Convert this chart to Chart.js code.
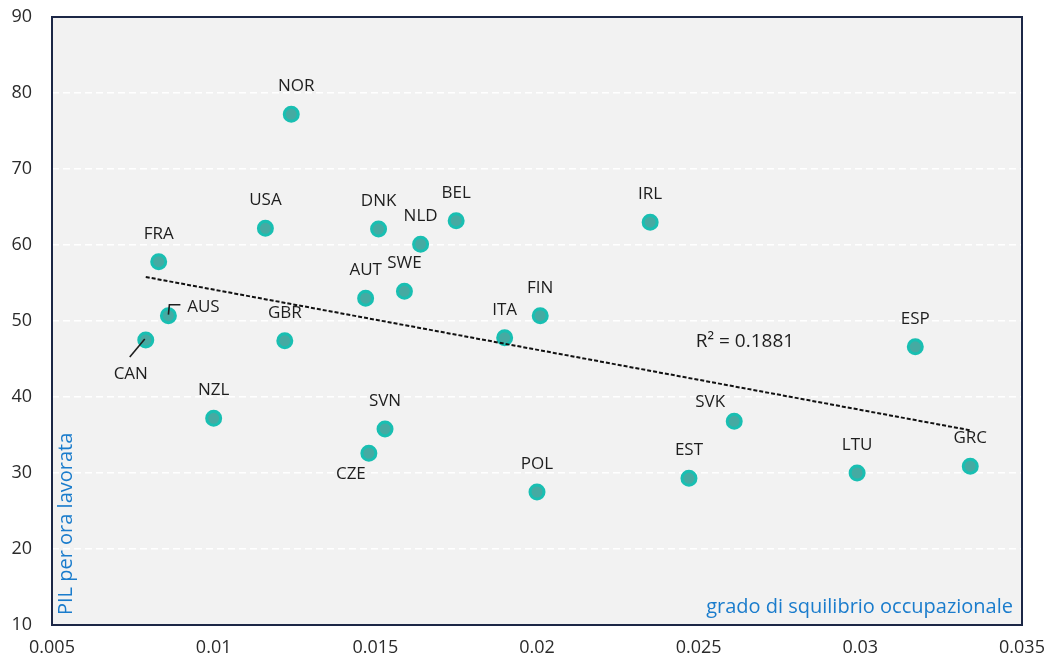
<!DOCTYPE html>
<html>
<head>
<meta charset="utf-8">
<script src="https://cdn.jsdelivr.net/npm/chart.js@4.4.1/dist/chart.umd.min.js"></script>
<style>
  html, body { margin: 0; padding: 0; background: #ffffff; }
  #wrap { width: 1051px; height: 663px; }
</style>
</head>
<body>
<div id="wrap"><canvas id="chartCanvas" width="1051" height="663"></canvas></div>
<script>
// Paesi OCSE: grado di squilibrio occupazionale vs PIL per ora lavorata
const countries = ['NOR', 'USA', 'FRA', 'AUS', 'CAN', 'GBR', 'NZL', 'SVN', 'CZE', 'AUT', 'SWE', 'DNK',
    'NLD', 'BEL', 'ITA', 'FIN', 'POL', 'IRL', 'EST', 'SVK', 'LTU', 'ESP', 'GRC'];
const squilibrio = [0.0124, 0.0116, 0.0083, 0.0086, 0.0079, 0.0122, 0.0100, 0.0153, 0.0148, 0.0147, 0.0159, 0.0151,
    0.0164, 0.0175, 0.0190, 0.0201, 0.0200, 0.0235, 0.0247, 0.0261, 0.0299, 0.0317, 0.0334];
const pilOra = [77.2, 62.2, 57.8, 50.7, 47.5, 47.4, 37.2, 35.8, 32.6, 53.0, 53.9, 62.1,
    60.1, 63.2, 47.8, 50.7, 27.5, 63.0, 29.3, 36.8, 30.0, 46.6, 30.9];
const xTicks = [0.005, 0.01, 0.015, 0.02, 0.025, 0.03, 0.035];
const yTicks = [10, 20, 30, 40, 50, 60, 70, 80, 90];
const r2Text = 'R² = 0.1881';

// linear trend (least squares)
const n = squilibrio.length;
const mx = squilibrio.reduce((a, b) => a + b, 0) / n;
const my = pilOra.reduce((a, b) => a + b, 0) / n;
let sxy = 0, sxx = 0;
for (let i = 0; i < n; i++) {
    sxy += (squilibrio[i] - mx) * (pilOra[i] - my);
    sxx += (squilibrio[i] - mx) ** 2;
}
const slope = sxy / sxx;
const intercept = my - slope * mx;
const xMin = Math.min(...squilibrio), xMax = Math.max(...squilibrio);
const trend = [xMin, xMax].map(x => ({ x: x, y: intercept + slope * x }));

const points = squilibrio.map((x, i) => ({ x: x, y: pilOra[i] }));

// label placement around each marker (pixels from the point centre)
const labelShift = { NOR: [5, -28], AUS: [35, -9], CAN: [-15, 34], CZE: [-18, 21], SVK: [-24, -19] };
const leaders = {
    AUS: [[0, -1], [1, -11], [12, -11]],
    CAN: [[-1, -1], [-16, 17]]
};

const plotFrame = {
    id: 'plotFrame',
    beforeDraw(chart) {
        const { ctx, chartArea: a } = chart;
        ctx.save();
        ctx.fillStyle = '#f2f2f2';
        ctx.fillRect(a.left, a.top, a.right - a.left, a.bottom - a.top);
        ctx.restore();
    },
    afterDraw(chart) {
        const { ctx, chartArea: a } = chart;
        ctx.save();
        ctx.strokeStyle = '#1c2746';
        ctx.lineWidth = 2;
        ctx.strokeRect(a.left, a.top, a.right - a.left, a.bottom - a.top);

        // axis titles sit inside the plot
        ctx.fillStyle = '#1a7ccc';
        ctx.font = '20px "Open Sans", sans-serif';
        ctx.textAlign = 'right';
        ctx.textBaseline = 'alphabetic';
        ctx.fillText('grado di squilibrio occupazionale', a.right - 9, a.bottom - 12);
        ctx.translate(a.left + 20, a.bottom - 10);
        ctx.rotate(-Math.PI / 2);
        ctx.textAlign = 'left';
        ctx.fillText('PIL per ora lavorata', 0, 0);
        ctx.restore();
    }
};

const pointLabels = {
    id: 'pointLabels',
    afterDatasetsDraw(chart) {
        const { ctx } = chart;
        const meta = chart.getDatasetMeta(1);
        ctx.save();
        ctx.font = '17px "Open Sans", sans-serif';
        ctx.fillStyle = '#1e1e1e';
        ctx.textAlign = 'center';
        ctx.textBaseline = 'middle';
        meta.data.forEach((pt, i) => {
            const c = countries[i];
            const [dx, dy] = labelShift[c] || [0, -28];
            ctx.fillText(c, pt.x + dx, pt.y + dy);
            if (leaders[c]) {
                ctx.beginPath();
                ctx.strokeStyle = '#1e1e1e';
                ctx.lineWidth = 1.6;
                leaders[c].forEach(([lx, ly], k) => {
                    if (k === 0) ctx.moveTo(pt.x + lx, pt.y + ly);
                    else ctx.lineTo(pt.x + lx, pt.y + ly);
                });
                ctx.stroke();
            }
        });
        // R² of the trend line
        const xs = chart.scales.x, ys = chart.scales.y;
        ctx.font = '19px "Open Sans", sans-serif';
        ctx.textAlign = 'left';
        ctx.fillText(r2Text, xs.getPixelForValue(0.02491), ys.getPixelForValue(47.3));
        ctx.restore();
    }
};

const config = {
    type: 'scatter',
    data: {
        datasets: [{
            type: 'line',
            data: trend,
            borderColor: '#111111',
            borderWidth: 2,
            borderDash: [4, 2],
            pointRadius: 0,
            fill: false,
            order: 0
        }, {
            data: points,
            backgroundColor: '#45aaa2',
            borderColor: '#19bfb2',
            borderWidth: 3,
            pointRadius: 7,
            order: 1
        }]
    },
    options: {
        responsive: false,
        animation: false,
        devicePixelRatio: 1,
        layout: { padding: { top: 17, right: 29, left: 0, bottom: 0 } },
        plugins: {
            legend: { display: false },
            tooltip: { enabled: false }
        },
        scales: {
            x: {
                type: 'linear',
                min: xTicks[0],
                max: xTicks[xTicks.length - 1],
                afterBuildTicks: axis => { axis.ticks = xTicks.map(v => ({ value: v })); },
                afterFit: axis => {
                    axis.height = 38;
                    axis.paddingLeft = 0;
                    axis.paddingRight = 0;
                },
                grid: { display: false, drawTicks: false },
                border: { display: false },
                ticks: {
                    padding: 12,
                    color: '#2b2b2b',
                    font: { size: 18, family: '"Open Sans", sans-serif' },
                    maxRotation: 0,
                    callback: v => String(+v.toFixed(3))
                }
            },
            y: {
                min: yTicks[0],
                max: yTicks[yTicks.length - 1],
                afterBuildTicks: axis => { axis.ticks = yTicks.map(v => ({ value: v })); },
                afterFit: axis => {
                    axis.width = 52;
                    axis.paddingTop = 0;
                    axis.paddingBottom = 0;
                },
                grid: {
                    color: '#ffffff',
                    lineWidth: 1.5,
                    drawTicks: false
                },
                border: { display: false, dash: [7, 4] },
                ticks: {
                    padding: 20,
                    color: '#2b2b2b',
                    font: { size: 18, family: '"Open Sans", sans-serif' }
                }
            }
        }
    },
    plugins: [plotFrame, pointLabels]
};

const ctx = document.getElementById('chartCanvas').getContext('2d');
new Chart(ctx, config);
</script>
</body>
</html>
